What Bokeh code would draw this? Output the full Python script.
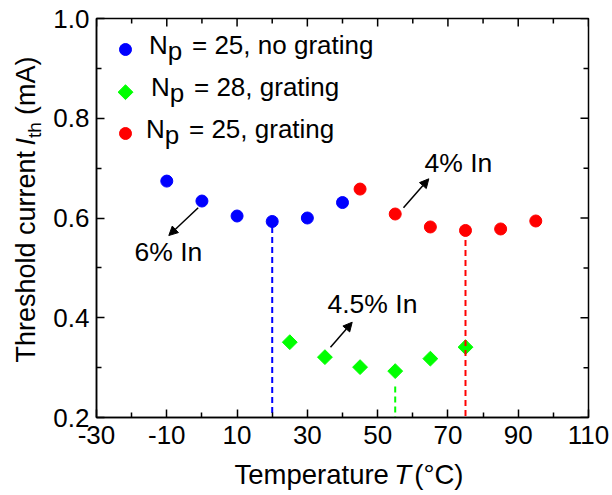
import math
from bokeh.plotting import figure
from bokeh.layouts import row, column
from bokeh.models import (Range1d, LinearAxis, FixedTicker, Label, Arrow,
                          NormalHead, PrintfTickFormatter)
from bokeh.core.properties import value
from bokeh.embed import file_html
from bokeh.resources import INLINE

# ---------------- data ----------------
temp_blue = [-10, 0, 10, 20, 30, 40]
ith_blue = [0.674, 0.634, 0.604, 0.593, 0.600, 0.631]

temp_green = [25, 35, 45, 55, 65, 75]
ith_green = [0.351, 0.321, 0.301, 0.293, 0.318, 0.341]

temp_red = [45, 55, 65, 75, 85, 95]
ith_red = [0.658, 0.608, 0.582, 0.575, 0.578, 0.594]

drop_temp = [20, 55, 75]
drop_top = [0.582, 0.262, 0.556]
drop_color = ["#0000FF", "#00FF00", "#FF0000"]

x_ticks = [-30, -10, 10, 30, 50, 70, 90, 110]
x_minor = [-20, 0, 20, 40, 60, 80, 100]
y_ticks = [0.2, 0.4, 0.6, 0.8, 1.0]
y_minor = [0.3, 0.5, 0.7, 0.9]

BLUE, GREEN, RED = "#0000FF", "#00FF00", "#FF0000"
FONT = "Liberation Sans"
BASE_K = 0.39   # empirical baseline correction (fraction of font size)

# ---------------- layout ----------------
PAGE_W, PAGE_H = 612, 495
LW = 50                     # left title strip width
MW, MH = PAGE_W - LW, 456   # main figure
BH = PAGE_H - MH            # bottom title strip height
FL, FR, FT, FB = 46, 24, 18, 39
XMIN, XMAX, YMIN, YMAX = -30, 110, 0.2, 1.0
fw = MW - FL - FR
fh = MH - FT - FB


def px(x_page, y_page):
    """page pixel -> main-figure data coords"""
    cx, cy = x_page - LW, y_page
    xd = XMIN + (cx - FL) / fw * (XMAX - XMIN)
    yd = YMIN + (FT + fh - cy) / fh * (YMAX - YMIN)
    return xd, yd


def ddx(n):
    return n / fw * (XMAX - XMIN)


def ddy(n):
    return n / fh * (YMAX - YMIN)


p = figure(width=MW, height=MH, output_backend="svg", toolbar_location=None,
           x_range=Range1d(XMIN, XMAX), y_range=Range1d(YMIN, YMAX),
           min_border_left=FL, min_border_right=FR,
           min_border_top=FT, min_border_bottom=FB,
           x_axis_location=None, y_axis_location=None)
p.xgrid.visible = False
p.ygrid.visible = False
p.outline_line_color = "black"
p.outline_line_width = 1.5
p.background_fill_color = "white"
p.border_fill_color = "white"


def make_axis(ticks, minor, fmt):
    ax = LinearAxis(ticker=FixedTicker(ticks=ticks, minor_ticks=minor),
                    formatter=PrintfTickFormatter(format=fmt))
    ax.axis_line_width = 1.5
    ax.axis_line_color = "black"
    ax.major_tick_in = 8
    ax.major_tick_out = 0
    ax.minor_tick_in = 5
    ax.minor_tick_out = 0
    ax.major_tick_line_width = 1.5
    ax.minor_tick_line_width = 1.5
    ax.major_tick_line_color = "black"
    ax.minor_tick_line_color = "black"
    ax.axis_label = None
    ax.major_label_text_font = FONT
    ax.major_label_text_font_size = "26px"
    ax.major_label_text_color = "black"
    return ax


xb = make_axis(x_ticks, x_minor, "%d")
xb.major_label_standoff = 8
yl = make_axis(y_ticks, y_minor, "%.1f")
yl.major_label_standoff = 7
p.add_layout(xb, "below")
p.add_layout(yl, "left")

# mirrored ticks on top and right edges
tick_kw = dict(line_color="black", line_width=1.5)
p.segment(x0=x_ticks, y0=[YMAX] * len(x_ticks), x1=x_ticks,
          y1=[YMAX - ddy(8)] * len(x_ticks), **tick_kw)
p.segment(x0=x_minor, y0=[YMAX] * len(x_minor), x1=x_minor,
          y1=[YMAX - ddy(5)] * len(x_minor), **tick_kw)
p.segment(x0=[XMAX] * len(y_ticks), y0=y_ticks, x1=[XMAX - ddx(8)] * len(y_ticks),
          y1=y_ticks, **tick_kw)
p.segment(x0=[XMAX] * len(y_minor), y0=y_minor, x1=[XMAX - ddx(5)] * len(y_minor),
          y1=y_minor, **tick_kw)

# ---------------- data marks ----------------
p.scatter(temp_blue, ith_blue, marker="circle", size=12,
          fill_color=BLUE, line_color=BLUE)
p.scatter(temp_red, ith_red, marker="circle", size=12,
          fill_color=RED, line_color=RED)
p.scatter(temp_green, ith_green, marker="square", size=10.5, angle=math.pi / 4,
          fill_color=GREEN, line_color=GREEN)

# dashed drop lines at minima (drawn from top down)
p.segment(x0=drop_temp, y0=drop_top, x1=drop_temp, y1=[YMIN] * len(drop_temp),
          line_color=drop_color, line_width=2, line_dash="6 4")

# ---------------- legend (manual) ----------------
lx, _ = px(125, 0)
leg_y = [px(0, 49)[1], px(0, 91.7)[1], px(0, 133)[1]]
p.scatter([lx], [leg_y[0]], marker="circle", size=12, fill_color=BLUE, line_color=BLUE)
p.scatter([lx], [leg_y[1]], marker="square", size=10.5, angle=math.pi / 4,
          fill_color=GREEN, line_color=GREEN)
p.scatter([lx], [leg_y[2]], marker="circle", size=12, fill_color=RED, line_color=RED)

legend_rows = [
    (148.5, 55, "= 25, no grating", 191.5),
    (150.5, 96.7, "= 28, grating", 193.5),
    (145.5, 138.3, "= 25, grating", 188.5),
]


def add_text(xp, yp, text, size, italic=False):
    xd, yd = px(xp, yp - BASE_K * size)
    p.add_layout(Label(x=xd, y=yd, text=text, text_font=FONT,
                       text_font_size=f"{size}px", text_color="black",
                       text_font_style="italic" if italic else "normal",
                       text_align="left", text_baseline="alphabetic"))


for nx, base, rest, rx in legend_rows:
    add_text(nx, base, "N", 26)
    add_text(nx + 18.8, base + 6, "p", 26)
    add_text(rx, base, rest, 26)

# ---------------- annotations ----------------
def add_arrow(p0, p1):
    x0, y0 = px(*p0)
    x1, y1 = px(*p1)
    p.add_layout(Arrow(end=NormalHead(size=9, fill_color="black", line_color="black",
                                      line_width=1),
                       x_start=x0, y_start=y0, x_end=x1, y_end=y1,
                       line_width=1.5, line_color="black"))


add_arrow((197.7, 207.3), (168.3, 235))
add_arrow((403, 207.3), (428.3, 178.3))
add_arrow((330, 346.7), (351.7, 321.7))

add_text(134, 261.7, "6% In", 26.5)
add_text(424, 173.3, "4% In", 26.5)
add_text(327, 314, "4.5% In", 26.5)


# ---------------- axis titles (rich text in side strips) ----------------
def strip(w, h):
    f = figure(width=w, height=h, output_backend="svg", toolbar_location=None,
               x_range=Range1d(0, w), y_range=Range1d(0, h),
               min_border=0, x_axis_location=None, y_axis_location=None)
    f.xgrid.visible = False
    f.ygrid.visible = False
    f.outline_line_color = None
    f.background_fill_color = "white"
    f.border_fill_color = "white"
    return f


def strip_text(f, x0, y0, h, xp, yp, text, size, italic=False, angle=0.0,
               align="left"):
    f.text(x=[xp - x0], y=[h - (yp - y0)], text=[text], angle=angle,
           text_font=value(FONT), text_font_size=value(f"{size}px"),
           text_font_style="italic" if italic else "normal",
           text_color="black", text_align=align, text_baseline="alphabetic")


# left strip: y title, rotated; baseline correction acts along x
left = strip(LW, PAGE_H)
rot = math.pi / 2
strip_text(left, 0, 0, PAGE_H, 36 - BASE_K * 27, 362, "Threshold current", 27, angle=rot)
strip_text(left, 0, 0, PAGE_H, 36 - BASE_K * 27, 145, "I", 27, italic=True, angle=rot)
strip_text(left, 0, 0, PAGE_H, 41 - BASE_K * 19, 137.5, "th", 19, angle=rot)
strip_text(left, 0, 0, PAGE_H, 36 - BASE_K * 27, 114.5, "(mA)", 27, angle=rot)

# bottom strip: x title (page origin LW, MH)
bottom = strip(MW, BH)
xb_base = 485 - BASE_K * 27.5
strip_text(bottom, LW, MH, BH, 384, xb_base, "Temperature", 27.5, align="right")
strip_text(bottom, LW, MH, BH, 390, xb_base, "T", 27.5, italic=True)
strip_text(bottom, LW, MH, BH, 413, xb_base, "(°C)", 27.5)

layout = row(left, column(p, bottom))
open("out.html", "w").write(file_html(layout, INLINE))
